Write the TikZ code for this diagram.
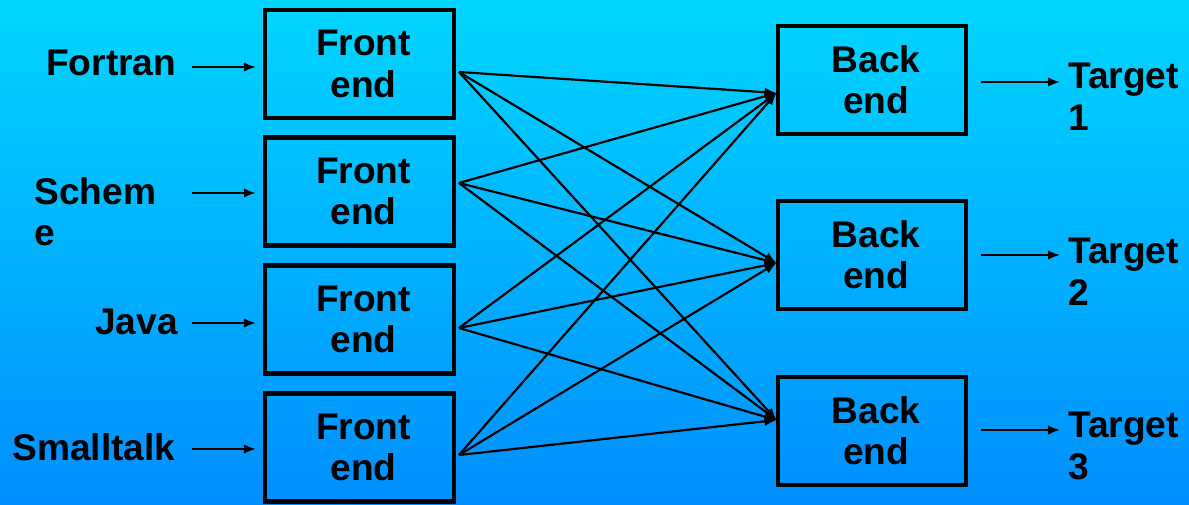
\documentclass[tikz,border=0pt]{standalone}
\usepackage{fontspec}
\setmainfont{Liberation Sans}
\usetikzlibrary{calc,arrows.meta}
\begin{document}
\begin{tikzpicture}[x=0.025cm,y=-0.025cm,
  every node/.style={font=\fontsize{26.4}{29.4}\selectfont\bfseries, text=black},
  stage/.style={draw=black, line width=2.9pt, minimum width=4.72cm,
    minimum height=2.7cm, align=center, inner sep=0pt},
  lbl/.style={inner sep=0pt, align=left},
  link/.style={line width=1.55pt, -{Latex[length=0.3cm,width=0.24cm]}},
]
% backdrop: cyan to blue gradient
\fill[top color={rgb,255:red,0;green,214;blue,255},
      bottom color={rgb,255:red,0;green,142;blue,255}]
  (0,0) rectangle (1189,505);
\useasboundingbox (0,0) rectangle (1189,505);

% front ends
\node[stage] (f1) at (359.5,64)    {\hspace*{0.2cm}Front\\\hspace*{0.2cm}end};
\node[stage] (f2) at (359.5,191.5) {\hspace*{0.2cm}Front\\\hspace*{0.2cm}end};
\node[stage] (f3) at (359.5,319.5) {\hspace*{0.2cm}Front\\\hspace*{0.2cm}end};
\node[stage] (f4) at (359.5,447.5) {\hspace*{0.2cm}Front\\\hspace*{0.2cm}end};

% back ends
\node[stage] (b1) at (872,80)  {\hspace*{0.2cm}Back\\\hspace*{0.2cm}end};
\node[stage] (b2) at (872,255) {\hspace*{0.2cm}Back\\\hspace*{0.2cm}end};
\node[stage] (b3) at (872,431) {\hspace*{0.2cm}Back\\\hspace*{0.2cm}end};

% source languages
\node[lbl, anchor=base west]  (fortran)   at (46,76)   {Fortran};
\node[lbl, anchor=north west] (scheme)    at (34,177)  {Schem\\e};
\node[lbl, anchor=base west]  (java)      at (95,334)  {Java};
\node[lbl, anchor=base west]  (smalltalk) at (12,460)  {Smalltalk};

% targets
\node[lbl, anchor=north west] (t1) at (1068,63)  {Target\\1};
\node[lbl, anchor=north west] (t2) at (1068,238) {Target\\2};
\node[lbl, anchor=north west] (t3) at (1068,412) {Target\\3};

% input arrows
\coordinate (i1) at (192,67);
\coordinate (i2) at (192,193);
\coordinate (i3) at (192,323);
\coordinate (i4) at (192,449);
\foreach \i/\f in {i1/f1,i2/f2,i3/f3,i4/f4}
  \draw[link, shorten >=0.18cm] (\i) -- (\i -| \f.west);

% output arrows
\coordinate (o1) at (1060,82);
\coordinate (o2) at (1060,255);
\coordinate (o3) at (1060,430);
\foreach \o/\b in {o1/b1,o2/b2,o3/b3}
  \draw[link, shorten <=0.32cm] (\o -| \b.east) -- (\o);

% attachment points of the crossing links
\coordinate (fo1) at ($(f1.east)+(3,8)$);
\coordinate (fo2) at ($(f2.east)+(3,-8.5)$);
\coordinate (fo3) at ($(f3.east)+(3,8.5)$);
\coordinate (fo4) at ($(f4.east)+(3,7.5)$);
\coordinate (bi1) at ($(b1.west)+(1,13)$);
\coordinate (bi2) at ($(b2.west)+(1,8)$);
\coordinate (bi3) at ($(b3.west)+(1,-11)$);

% every front end feeds every back end
\foreach \f in {fo1,fo2,fo3,fo4}
  \foreach \b in {bi1,bi2,bi3}
    \draw[link] (\f) -- (\b);
\end{tikzpicture}
\end{document}
